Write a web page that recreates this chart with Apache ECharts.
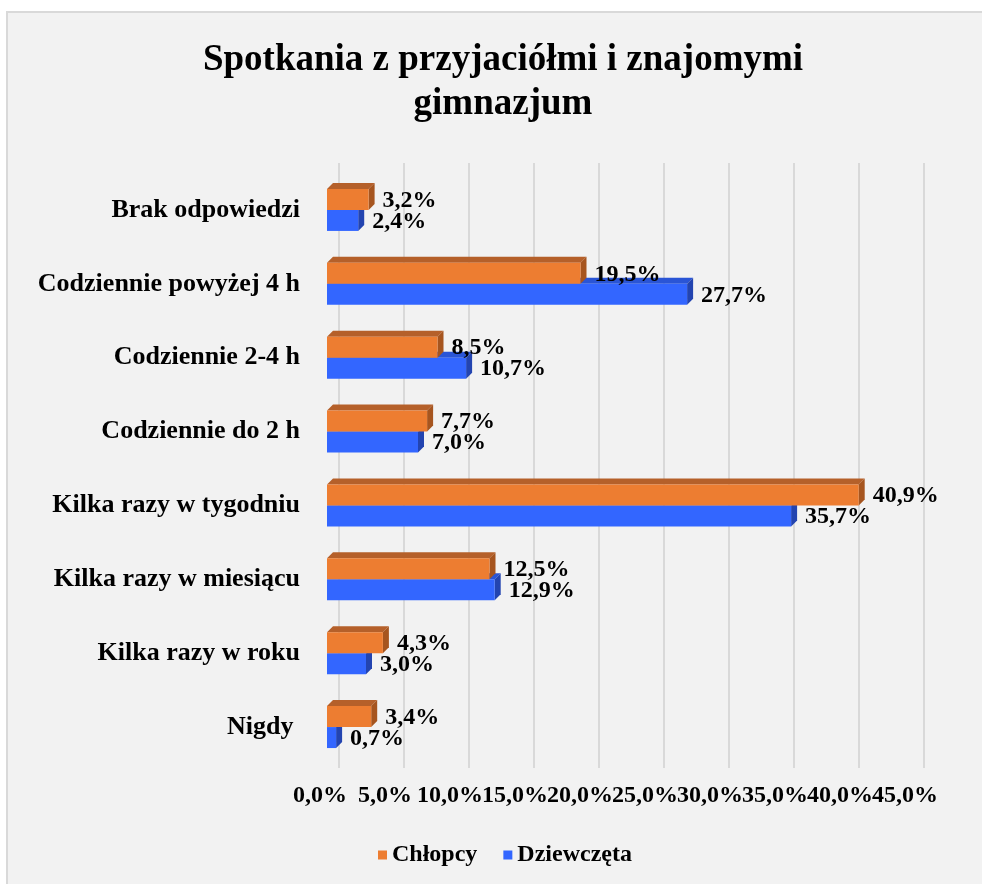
<!DOCTYPE html>
<html>
<head>
<meta charset="utf-8">
<script src="https://cdn.jsdelivr.net/npm/echarts@6/dist/echarts.min.js"></script>
<style>
    html, body { margin: 0; background: #fff; }
    #chart { width: 982px; height: 884px; }
</style>
</head>
<body>
<div id="chart"></div>
<script>
// dane z wykresu
const categories = ['Brak odpowiedzi', 'Codziennie powyżej 4 h', 'Codziennie 2-4 h', 'Codziennie do 2 h',
    'Kilka razy w tygodniu', 'Kilka razy w miesiącu', 'Kilka razy w roku', 'Nigdy '];
const chlopcy = [3.2, 19.5, 8.5, 7.7, 40.9, 12.5, 4.3, 3.4];
const dziewczeta = [2.4, 27.7, 10.7, 7.0, 35.7, 12.9, 3.0, 0.7];
const axisMin = 0;
const axisMax = 45;
const axisStep = 5;

const serif = '"Liberation Serif", "Times New Roman", serif';
const orange = { front: '#ED7D31', top: '#B5602A', side: '#A6551F' };
const blue = { front: '#3366FF', top: '#2A55D6', side: '#2344B0' };

function pct(v) {
    return v.toFixed(1).replace('.', ',') + '%';
}

// słupek "3D": przód + góra + bok, etykieta za bokiem
function bar3d(colors, upper) {
    return function (params, api) {
        const start = api.coord([0, api.value(0)]);
        const end = api.coord([api.value(1), api.value(0)]);
        const h = 21, d = 6;
        const y0 = upper ? start[1] - h : start[1];
        const x0 = start[0], x1 = end[0];
        return {
            type: 'group',
            children: [
                { type: 'polygon', shape: { points: [[x0, y0], [x0 + d, y0 - d], [x1 + d, y0 - d], [x1, y0]] }, style: { fill: colors.top } },
                { type: 'polygon', shape: { points: [[x1, y0], [x1 + d, y0 - d], [x1 + d, y0 + h - d], [x1, y0 + h]] }, style: { fill: colors.side } },
                { type: 'rect', shape: { x: x0, y: y0, width: x1 - x0, height: h }, style: { fill: colors.front } },
                {
                    type: 'text', x: x1 + d + 8, y: y0 + h / 2 + 1, z2: 10,
                    style: {
                        text: pct(api.value(1)), fill: '#000', align: 'left', verticalAlign: 'middle',
                        font: 'bold 24px ' + serif
                    }
                }
            ]
        };
    };
}

// etykiety osi nachodzą na siebie (jak w oryginale) - dzielimy je na dwie osie,
// żeby echarts nie ukrywał żadnej
function tickLabels(even) {
    return {
        formatter: v => (Math.round(v / axisStep) % 2 === 0) === even ? pct(v) : '',
        margin: 16, hideOverlap: false, showMinLabel: true, showMaxLabel: true,
        fontFamily: serif, fontWeight: 'bold', fontSize: 24, color: '#000'
    };
}

const chart = echarts.init(document.getElementById('chart'));

const option = {
    animation: false,
    graphic: [
        {
            type: 'rect', z: -100, silent: true,
            shape: { x: 7, y: 12, width: 1000, height: 900 },
            style: { fill: '#F2F2F2', stroke: '#D9D9D9', lineWidth: 2 }
        },
        {
            type: 'text', z: 100, x: 503, y: 38,
            style: {
                text: 'Spotkania z przyjaciółmi i znajomymi\ngimnazjum',
                align: 'center', verticalAlign: 'top',
                font: 'bold 37px ' + serif, lineHeight: 44, fill: '#000'
            }
        }
    ],
    legend: {
        data: ['Chłopcy', 'Dziewczęta'],
        left: 373,
        top: 838,
        icon: 'rect',
        itemWidth: 9,
        itemHeight: 9,
        itemGap: 26,
        textStyle: { fontFamily: serif, fontWeight: 'bold', fontSize: 24, color: '#000' }
    },
    grid: [
        { left: 339, top: 163, width: 585, height: 605 },   // ściana z liniami siatki
        { left: 327, top: 173, width: 585, height: 591 },   // słupki
        { left: 320, top: 163, width: 585, height: 605 },   // etykiety osi (parzyste)
        { left: 320, top: 163, width: 585, height: 605 }    // etykiety osi (nieparzyste)
    ],
    xAxis: [
        {
            gridIndex: 0, type: 'value', min: axisMin, max: axisMax, interval: axisStep,
            axisLine: { show: false }, axisTick: { show: false }, axisLabel: { show: false },
            splitLine: { show: true, lineStyle: { color: '#D9D9D9', width: 2 } }
        },
        { gridIndex: 1, type: 'value', min: axisMin, max: axisMax, show: false },
        {
            gridIndex: 2, type: 'value', min: axisMin, max: axisMax, interval: axisStep,
            axisLine: { show: false }, axisTick: { show: false }, splitLine: { show: false },
            axisLabel: tickLabels(true)
        },
        {
            gridIndex: 3, type: 'value', min: axisMin, max: axisMax, interval: axisStep,
            axisLine: { show: false }, axisTick: { show: false }, splitLine: { show: false },
            axisLabel: tickLabels(false)
        }
    ],
    yAxis: [
        { gridIndex: 0, type: 'category', data: categories, inverse: true, show: false },
        {
            gridIndex: 1, type: 'category', data: categories, inverse: true,
            axisLine: { show: false }, axisTick: { show: false }, splitLine: { show: false },
            axisLabel: {
                margin: 27, padding: [10, 0, 0, 0],
                fontFamily: serif, fontWeight: 'bold', fontSize: 26, color: '#000'
            }
        },
        { gridIndex: 2, type: 'category', data: categories, show: false },
        { gridIndex: 3, type: 'category', data: categories, show: false }
    ],
    series: [
        {
            name: 'Dziewczęta', type: 'custom', xAxisIndex: 1, yAxisIndex: 1,
            itemStyle: { color: blue.front },
            encode: { x: 1, y: 0 },
            renderItem: bar3d(blue, false),
            data: dziewczeta.map((v, i) => [i, v])
        },
        {
            name: 'Chłopcy', type: 'custom', xAxisIndex: 1, yAxisIndex: 1,
            itemStyle: { color: orange.front },
            encode: { x: 1, y: 0 },
            renderItem: bar3d(orange, true),
            data: chlopcy.map((v, i) => [i, v])
        }
    ]
};

chart.setOption(option);
window.addEventListener('resize', () => chart.resize());
</script>
</body>
</html>
